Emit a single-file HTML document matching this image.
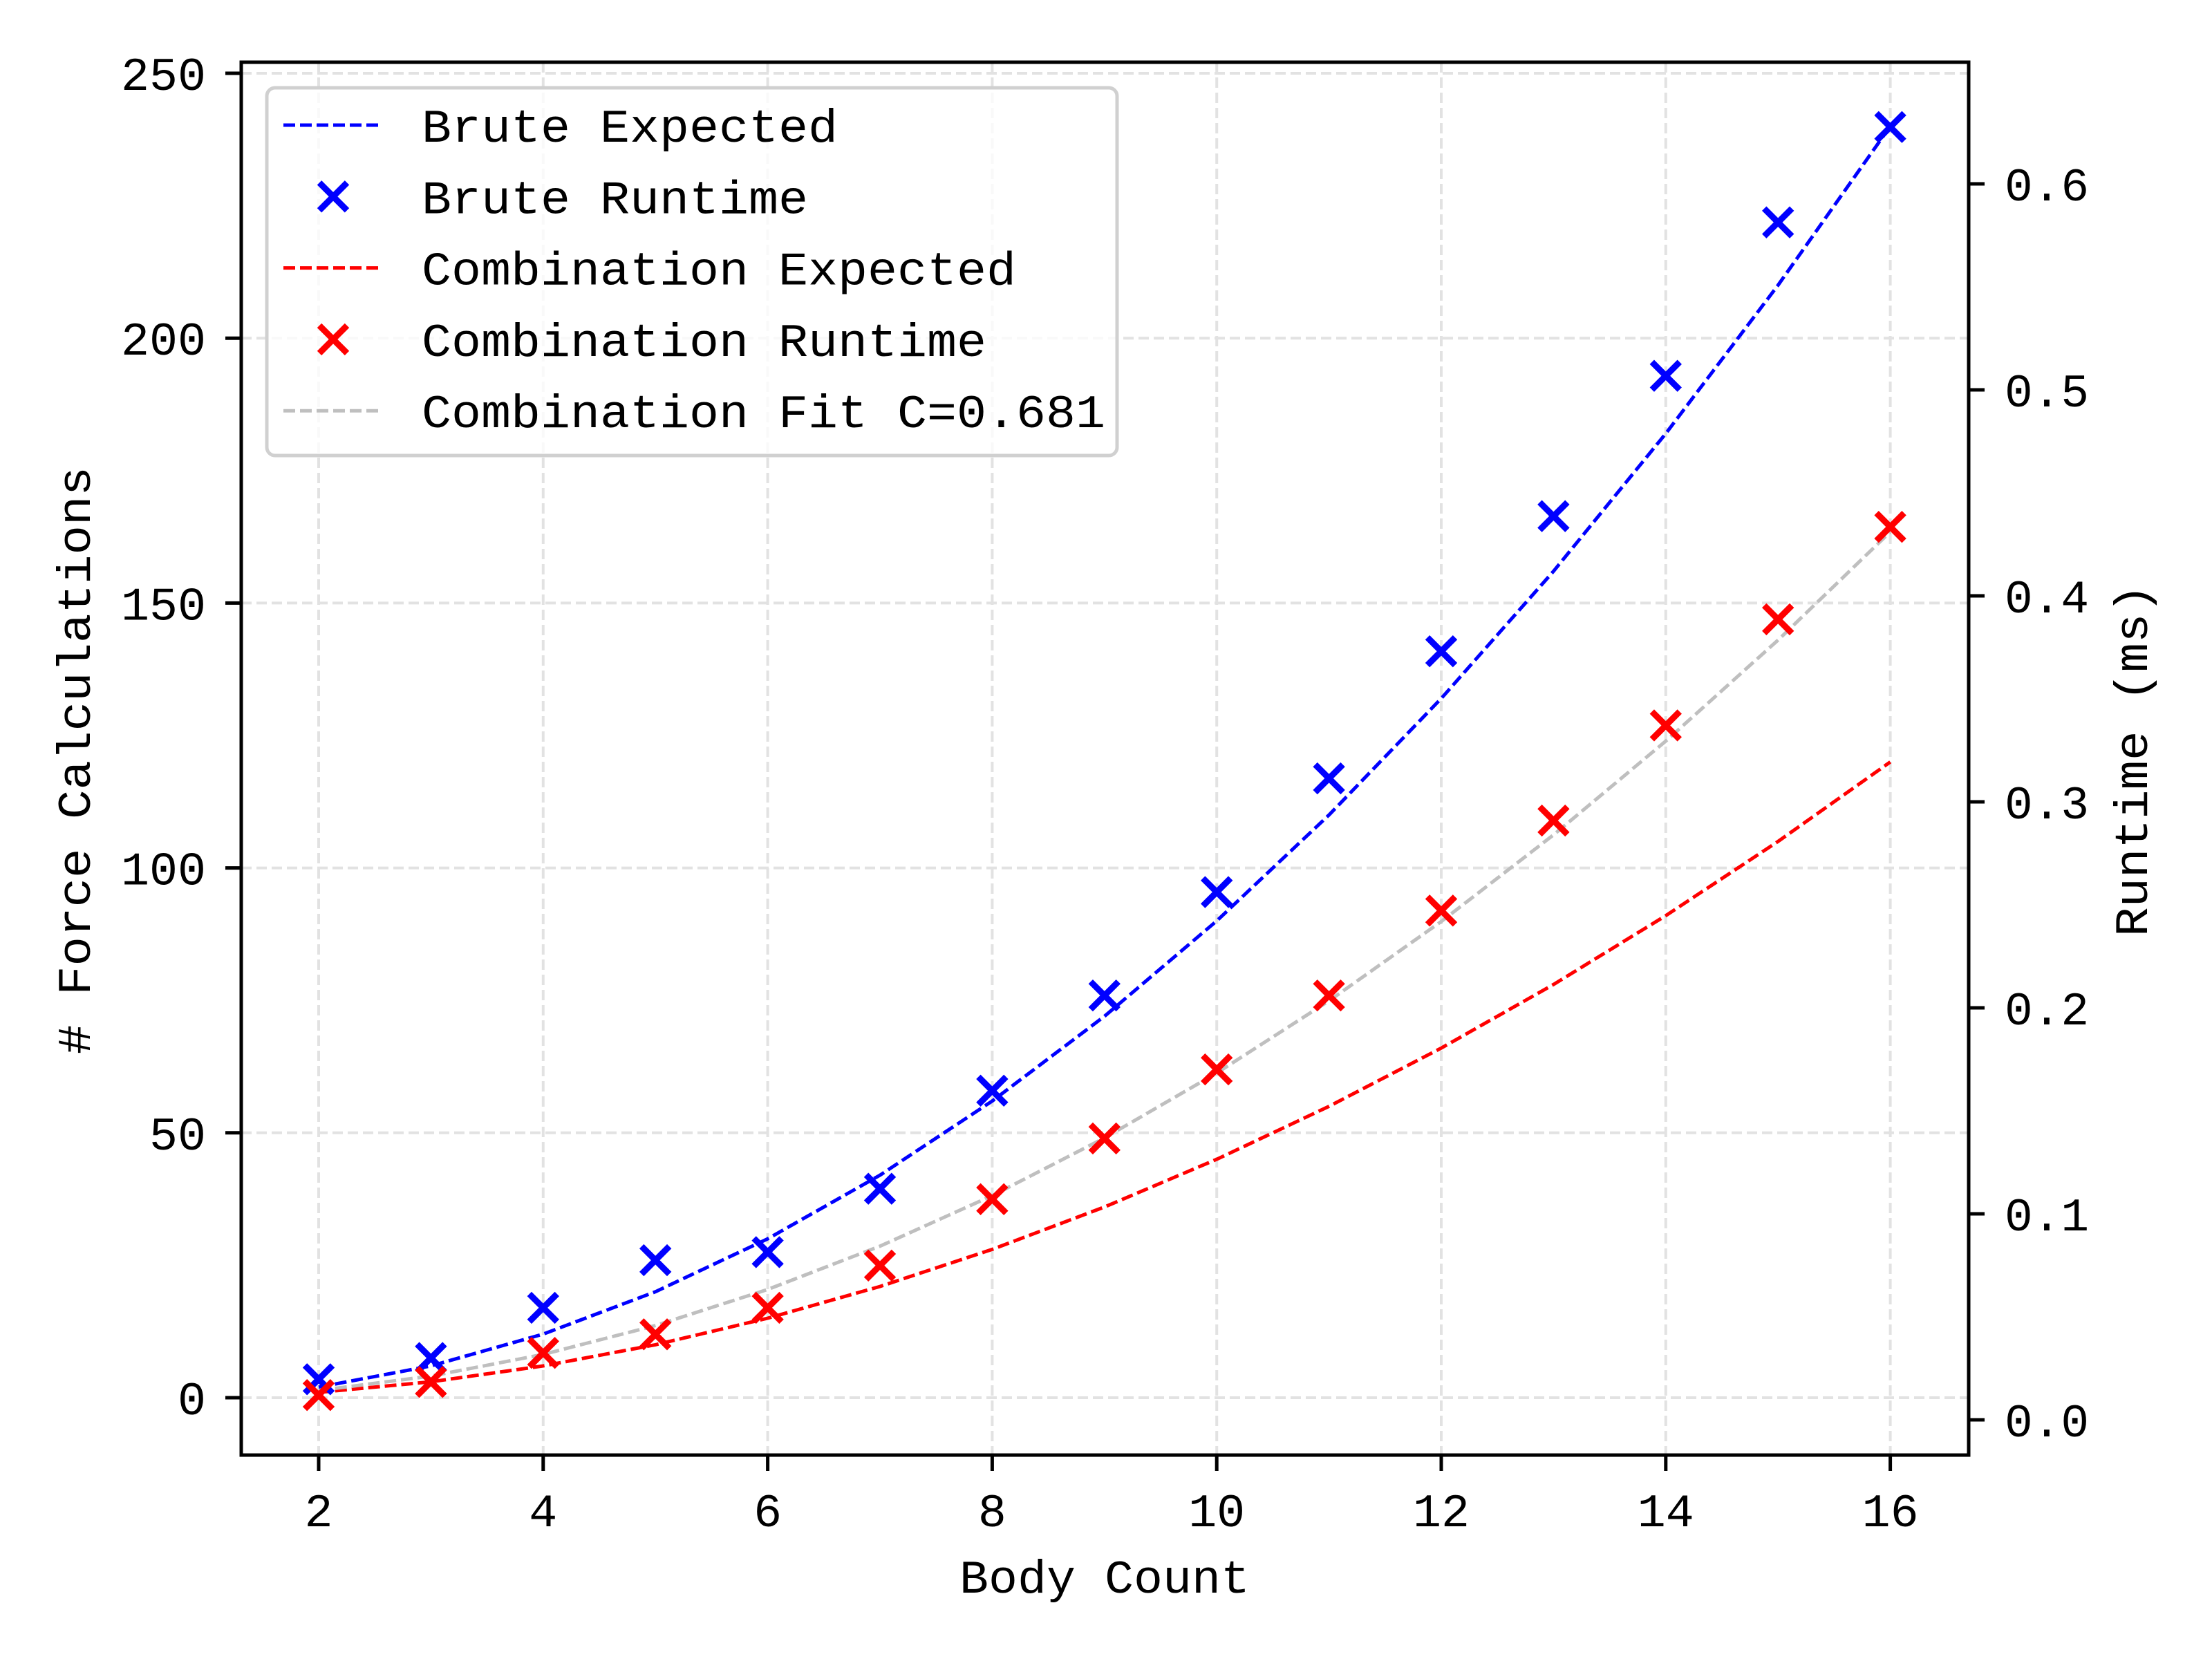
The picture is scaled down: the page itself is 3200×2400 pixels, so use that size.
<!DOCTYPE html>
<html><head><meta charset="utf-8"><style>
html,body{margin:0;padding:0;background:#fff;}
svg{display:block;}
text{font-family:"Liberation Mono","DejaVu Sans Mono",monospace;fill:#000;}
</style></head>
<body>
<svg id="chart" width="3200" height="2400" viewBox="0 0 3200 2400" xmlns="http://www.w3.org/2000/svg">
<rect x="0" y="0" width="3200" height="2400" fill="#fff"/>
<g id="grid"></g>
<g id="series"></g>
<rect x="349" y="90" width="2499" height="2015" fill="none" stroke="#000" stroke-width="5"/>
<g id="axes"></g>
<text x="1598" y="2304" font-size="68" text-anchor="middle" textLength="420" lengthAdjust="spacingAndGlyphs">Body Count</text>
<text x="0" y="0" font-size="68" text-anchor="middle" transform="translate(130,1100) rotate(-90)" textLength="850" lengthAdjust="spacingAndGlyphs"># Force Calculations</text>
<text x="0" y="0" font-size="68" text-anchor="middle" transform="translate(3106,1100) rotate(-90)" textLength="510" lengthAdjust="spacingAndGlyphs">Runtime (ms)</text>
<g id="legend"></g>
</svg>
<script>
const bodyCounts = [2,3,4,5,6,7,8,9,10,11,12,13,14,15,16];
const bruteRuntime = [0.0197,0.030,0.0544,0.0775,0.0814,0.1122,0.1598,0.206,0.2562,0.3114,0.3731,0.4387,0.5068,0.5813,0.6276];
const comboRuntime = [0.0120,0.0184,0.0325,0.0415,0.0544,0.0749,0.1071,0.1366,0.1701,0.2060,0.2472,0.2909,0.3371,0.3886,0.4335];
const fitC = 0.681;
const xTicks = [2,4,6,8,10,12,14,16];
const yTicks = [0,50,100,150,200,250];
const y2Ticks = [0.0,0.1,0.2,0.3,0.4,0.5,0.6];
const y2TickLabels = ["0.0","0.1","0.2","0.3","0.4","0.5","0.6"];

const NS = "http://www.w3.org/2000/svg";
function xS(v){ return 461 + (v-2)*162.4; }
function yS(v){ return 2022 - v*7.664; }
function y2S(v){ return 2054 - v*2980; }
function mk(tag, attrs, parent){
  const e = document.createElementNS(NS, tag);
  for (const k in attrs) e.setAttribute(k, attrs[k]);
  parent.appendChild(e);
  return e;
}
const grid = document.getElementById('grid');
const axes = document.getElementById('axes');
const series = document.getElementById('series');
const legend = document.getElementById('legend');

xTicks.forEach(t => {
  const x = xS(t);
  const g = mk('line',{x1:x,x2:x,y1:90,y2:2105,stroke:'#e2e2e2','stroke-width':4,'stroke-dasharray':'15 7'},grid);
  
  
  const tk = mk('line',{x1:x,x2:x,y1:2105,y2:2128,stroke:'#000','stroke-width':5},axes);
  
  
  const s = String(t);
  const lb = mk('text',{x:x,y:2208,'font-size':68,'text-anchor':'middle',textLength:s.length*41,lengthAdjust:'spacingAndGlyphs'},axes);
  lb.textContent = s;
  
  
});
yTicks.forEach(t => {
  const y = yS(t);
  const g = mk('line',{x1:349,x2:2848,y1:y,y2:y,stroke:'#e2e2e2','stroke-width':4,'stroke-dasharray':'15 7'},grid);
  
  
  const tk = mk('line',{x1:326,x2:349,y1:y,y2:y,stroke:'#000','stroke-width':5},axes);
  
  
  const s = String(t);
  const lb = mk('text',{x:298,y:y+24,'font-size':68,'text-anchor':'end',textLength:s.length*41,lengthAdjust:'spacingAndGlyphs'},axes);
  lb.textContent = s;
  
  
});
y2Ticks.forEach((t,i) => {
  const y = y2S(t);
  const tk = mk('line',{x1:2848,x2:2871,y1:y,y2:y,stroke:'#000','stroke-width':5},axes);
  
  
  const lb = mk('text',{x:2900,y:y+24,'font-size':68,textLength:122,lengthAdjust:'spacingAndGlyphs'},axes);
  lb.textContent = y2TickLabels[i];
  
  
});

function curve(fn, color, name){
  const pts = bodyCounts.map(n => xS(n).toFixed(1)+','+yS(fn(n)).toFixed(1)).join(' ');
  const p = mk('polyline',{points:pts,fill:'none',stroke:color,'stroke-width':5,'stroke-dasharray':'17 7'},series);
  
  
}
function cross(cx, cy, color, parent, name){
  const g = mk('g',{stroke:color,'stroke-width':9},parent);
  
  
  mk('line',{x1:cx-20,y1:cy-20,x2:cx+20,y2:cy+20},g);
  mk('line',{x1:cx-20,y1:cy+20,x2:cx+20,y2:cy-20},g);
}
curve(n => n*(n-1), '#0000ff', 'brute-expected-line');
curve(n => n*(n-1)/2, '#ff0000', 'combination-expected-line');
curve(n => fitC*n*(n-1), '#bfbfbf', 'combination-fit-line');
bodyCounts.forEach((n,i) => cross(xS(n), y2S(bruteRuntime[i]), '#0000ff', series, 'brute-runtime-point'));
bodyCounts.forEach((n,i) => cross(xS(n), y2S(comboRuntime[i]), '#ff0000', series, 'combination-runtime-point'));

const box = mk('rect',{x:386,y:127,width:1230,height:532,rx:12,fill:'#fff','fill-opacity':0.8,stroke:'#d0d0d0','stroke-width':5},legend);


const legendLabels = ["Brute Expected","Brute Runtime","Combination Expected","Combination Runtime","Combination Fit C=0.681"];
const legendColors = ['#0000ff','#0000ff','#ff0000','#ff0000','#bfbfbf'];
const legendKinds = ['line','marker','line','marker','line'];
legendLabels.forEach((lab,i) => {
  const cy = 181 + i*103.3;
  if (legendKinds[i] === 'line') {
    const l = mk('line',{x1:410,x2:549,y1:cy,y2:cy,stroke:legendColors[i],'stroke-width':5,'stroke-dasharray':'17 7'},legend);
    
    
  } else {
    cross(482, cy, legendColors[i], legend, 'legend-marker-handle');
  }
  const t = mk('text',{x:610,y:cy+24,'font-size':68,textLength:lab.length*43,lengthAdjust:'spacingAndGlyphs'},legend);
  t.textContent = lab;
  
  
});
</script>
</body></html>
